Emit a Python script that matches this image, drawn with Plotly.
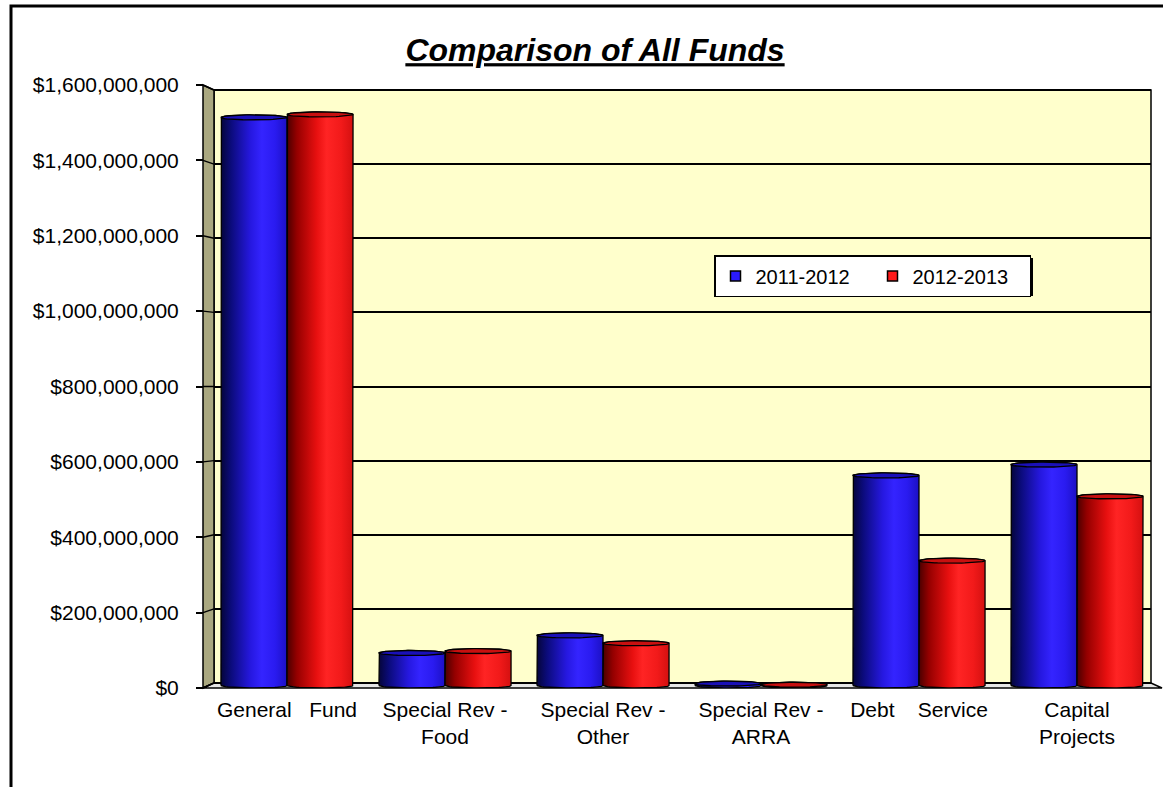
import numpy as np
import plotly.graph_objects as go

# ---- data -------------------------------------------------------------
categories = [
    "General\u00a0\u00a0\u00a0Fund",
    "Special Rev -<br>Food",
    "Special Rev -<br>Other",
    "Special Rev -<br>ARRA",
    "Debt\u00a0\u00a0\u00a0\u00a0Service",
    "Capital<br>Projects",
]
series_names = ["2011-2012", "2012-2013"]
fy2012 = [1520e6, 87e6, 134e6, 5e6, 562e6, 591e6]
fy2013 = [1528e6, 92e6, 113e6, 2e6, 334e6, 506e6]
y_ticks = [0, 200e6, 400e6, 600e6, 800e6, 1000e6, 1200e6, 1400e6, 1600e6]
y_tick_labels = ["$0", "$200,000,000", "$400,000,000", "$600,000,000",
                 "$800,000,000", "$1,000,000,000", "$1,200,000,000",
                 "$1,400,000,000", "$1,600,000,000"]

# ---- page geometry (pixels) -------------------------------------------
W, H = 1163, 787
WALL_L, WALL_R = 214, 1151          # back wall left / right
WALL_T, WALL_B = 90, 683            # back wall top / bottom (value 0)
FRONT_X = 203                       # front edge of the side wall / y axis
FRONT_T, FRONT_B = 85, 688          # front axis top / bottom
MID_T, MID_B = 87.5, 685.5          # plane the cylinders stand in
FLOOR_R = 1162
CAT_PX = 158                        # pixels per category
FIRST_CENTER = 287

YMAX = y_ticks[-1]


def stretched_range(top, bottom):
    """Value range that puts 0 at `bottom` and YMAX at `top` inside the front span."""
    s = (bottom - top) / YMAX
    return [-(FRONT_B - bottom) / s, YMAX + (top - FRONT_T) / s]


back_range = stretched_range(WALL_T, WALL_B)
mid_range = stretched_range(MID_T, MID_B)
mid_px_per_val = (MID_B - MID_T) / YMAX

x_lo = -(FIRST_CENTER - WALL_L) / CAT_PX
x_hi = x_lo + (WALL_R - WALL_L) / CAT_PX

FONT = "Liberation Sans, Arial, sans-serif"


def px(xp):
    return xp / W


def py(yp):
    return 1 - yp / H


BLUE_SCALE = [[0, "#05053a"], [0.15, "#0b0b7a"], [0.45, "#2618e0"],
              [0.62, "#3424ff"], [0.82, "#2a1bf0"], [1, "#1c10c4"]]
RED_SCALE = [[0, "#4a0000"], [0.15, "#950000"], [0.45, "#e81010"],
             [0.6, "#ff2424"], [0.82, "#f21a1a"], [1, "#d41010"]]
BLUE_TOP, RED_TOP = "#1a10b8", "#c81010"

bar_half = 0.209                      # half width of one cylinder (category units)
ry = 2.5 / mid_px_per_val             # vertical radius of the cylinder ellipses

fig = go.Figure()


def cylinder(center, value, scale, top_color):
    t_up = np.linspace(np.pi, 0, 40)
    t_dn = np.linspace(0, -np.pi, 40)
    xs = np.concatenate([[center - bar_half],
                         center + bar_half * np.cos(t_up),
                         center + bar_half * np.cos(t_dn)])
    ys = np.concatenate([[0],
                         value + ry * np.sin(t_up),
                         ry * np.sin(t_dn)])
    fig.add_trace(go.Scatter(
        x=xs, y=ys, yaxis="y3", mode="lines", fill="toself",
        fillgradient=dict(type="horizontal", colorscale=scale),
        line=dict(color="#000000", width=1.3),
        showlegend=False, hoverinfo="skip"))
    t = np.linspace(0, 2 * np.pi, 60)
    fig.add_trace(go.Scatter(
        x=center + bar_half * np.cos(t), y=value + ry * np.sin(t), yaxis="y3",
        mode="lines", fill="toself", fillcolor=top_color,
        line=dict(color="#000000", width=1.3),
        showlegend=False, hoverinfo="skip"))


for i in range(len(categories)):
    cylinder(i - bar_half, fy2012[i], BLUE_SCALE, BLUE_TOP)
    cylinder(i + bar_half, fy2013[i], RED_SCALE, RED_TOP)

# legend entries
for name, col in zip(series_names, ["#2a1aff", "#ff1a1a"]):
    fig.add_trace(go.Scatter(
        x=[None], y=[None], mode="markers", name=name,
        marker=dict(symbol="square", size=10, color=col,
                    line=dict(color="#000000", width=1.5))))

# front value axis carrier
fig.add_trace(go.Scatter(x=[None], y=[None], xaxis="x", yaxis="y2",
                         showlegend=False, hoverinfo="skip"))

# ---- 3D decorations ---------------------------------------------------
LEG_L, LEG_T, LEG_R, LEG_B = 714, 255, 1030, 293
shapes = []
# outer frame
shapes.append(dict(type="rect", xref="paper", yref="paper",
                   x0=px(11), y0=py(H + 20), x1=px(W + 20), y1=py(6),
                   line=dict(color="#000000", width=3), layer="below"))
# back wall
shapes.append(dict(type="rect", xref="paper", yref="paper",
                   x0=px(WALL_L), y0=py(WALL_B), x1=px(WALL_R), y1=py(WALL_T),
                   fillcolor="#ffffcc", line=dict(color="#000000", width=1.5),
                   layer="below"))
# left side wall
shapes.append(dict(type="path", xref="paper", yref="paper",
                   path=f"M {px(FRONT_X)},{py(FRONT_T)} L {px(WALL_L)},{py(WALL_T)} "
                        f"L {px(WALL_L)},{py(WALL_B)} L {px(FRONT_X)},{py(FRONT_B)} Z",
                   fillcolor="#aaa880", line=dict(color="#000000", width=1.5),
                   layer="below"))
# floor
shapes.append(dict(type="path", xref="paper", yref="paper",
                   path=f"M {px(FRONT_X)},{py(FRONT_B)} L {px(WALL_L)},{py(WALL_B)} "
                        f"L {px(WALL_R)},{py(WALL_B)} L {px(FLOOR_R)},{py(FRONT_B)} Z",
                   fillcolor="#e6e6e6", line=dict(color="#000000", width=1.5),
                   layer="below"))
# tick connectors from front axis to back wall gridlines
for v in y_ticks:
    yf = FRONT_B - (FRONT_B - FRONT_T) * v / YMAX
    yb = WALL_B - (WALL_B - WALL_T) * v / YMAX
    shapes.append(dict(type="line", xref="paper", yref="paper",
                       x0=px(FRONT_X), y0=py(yf), x1=px(WALL_L), y1=py(yb),
                       line=dict(color="#000000", width=1.5), layer="above"))
# legend shadow
shapes.append(dict(type="rect", xref="paper", yref="paper",
                   x0=px(LEG_L + 3), y0=py(LEG_B + 3), x1=px(LEG_R + 3), y1=py(LEG_T + 3),
                   fillcolor="#000000", line=dict(width=0), layer="above"))

fig.update_layout(
    template="none",
    width=W, height=H,
    margin=dict(l=0, r=0, t=0, b=0, autoexpand=False),
    paper_bgcolor="#ffffff",
    plot_bgcolor="rgba(0,0,0,0)",
    font=dict(family=FONT, color="#000000", size=21),
    title=dict(text="Comparison of All Funds",
               x=px(595), y=py(50), xanchor="center", yanchor="middle",
               font=dict(family=FONT, size=32, weight="bold", style="italic",
                         lineposition="under", color="#000000")),
    showlegend=True,
    legend=dict(orientation="h", x=px(LEG_L), y=py(LEG_T), xanchor="left", yanchor="top",
                bgcolor="#ffffff", bordercolor="#000000", borderwidth=1.5,
                font=dict(family=FONT, size=20), itemwidth=30,
                entrywidth=112, traceorder="normal"),
    xaxis=dict(domain=[px(WALL_L), px(WALL_R)], range=[x_lo, x_hi],
               tickvals=list(range(len(categories))), ticktext=categories,
               showgrid=False, zeroline=False, showline=False, ticks="",
               ticklabelstandoff=7, tickfont=dict(size=21), anchor="y",
               automargin=False),
    yaxis=dict(domain=[py(FRONT_B), py(FRONT_T)], range=back_range,
               tickvals=y_ticks, showticklabels=False, showgrid=True,
               gridcolor="#000000", gridwidth=1.5, zeroline=False,
               showline=False, ticks="", automargin=False),
    yaxis2=dict(overlaying="y", range=[0, YMAX],
                anchor="free", position=px(FRONT_X), side="left",
                tickvals=y_ticks, ticktext=y_tick_labels,
                showgrid=False, zeroline=False, showline=False,
                ticks="outside", ticklen=7, tickwidth=2, tickcolor="#000000",
                ticklabelstandoff=13, tickfont=dict(size=21), automargin=False),
    yaxis3=dict(overlaying="y", range=mid_range, visible=False,
                showgrid=False, zeroline=False, automargin=False),
    shapes=shapes,
)

fig.write_html("out.html")
